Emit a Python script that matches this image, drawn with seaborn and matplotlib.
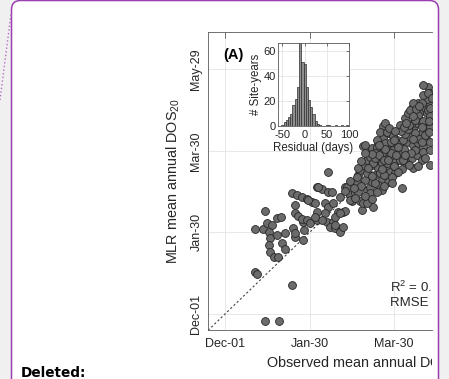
import matplotlib
matplotlib.use("Agg")
import matplotlib.pyplot as plt
import seaborn as sns
import numpy as np
from matplotlib.patches import FancyBboxPatch
from matplotlib.lines import Line2D
from matplotlib.transforms import IdentityTransform, Bbox

# Mean annual DOS20, in days since Dec-01 (observed vs. MLR-modelled)
obs_days = [
    28.2, 38.3, 47.5, 21.2, 22.4, 28.2, 21.2, 27.0, 29.4, 33.0, 31.0, 31.8, 31.0, 31.8,
    34.4, 37.6, 36.5, 39.2, 36.5, 40.5, 42.3, 42.3, 48.2, 49.4, 49.4, 49.4, 55.3, 56.0,
    55.3, 47.0, 50.6, 54.1, 49.4, 51.7, 54.1, 57.6, 61.2, 63.5, 57.6, 60.0, 64.7, 64.7,
    64.7, 68.2, 72.5, 75.8, 72.9, 70.6, 72.9, 76.5, 70.6, 71.8, 76.5, 74.1, 77.6, 81.2,
    81.2, 80.0, 83.5, 77.6, 84.7, 88.2, 91.7, 89.4, 95.3, 92.9, 94.1, 95.3, 97.6, 100.0,
    102.3, 96.5, 97.6, 100.0, 102.3, 103.5, 104.7, 97.2, 101.2, 103.5, 107.0, 103.5, 107.0, 108.2,
    105.9, 109.4, 110.6, 108.2, 110.6, 108.2, 111.7, 111.7, 115.3, 112.9, 115.3, 117.6, 114.1, 116.4,
    115.3, 110.6, 118.8, 121.2, 122.4, 123.5, 120.0, 123.5, 127.0, 124.7, 128.2, 124.7, 128.2, 130.6,
    132.9, 127.0, 129.4, 131.7, 132.9, 135.3, 136.5, 131.7, 135.3, 138.8, 136.5, 140.0, 142.3, 138.8,
    142.3, 143.5, 137.6, 141.2, 143.5, 142.3, 143.5, 144.7, 136.5, 140.0, 132.9, 109.4, 132.9, 140.0,
    144.7, 144.7, 144.7, 142.3, 134.1, 131.1, 85.9, 88.2, 94.1, 100.0, 102.3, 98.8, 92.9, 94.1,
    104.7, 110.6, 114.1, 120.0, 125.9, 118.8, 123.5, 112.9, 107.0, 105.9, 65.9, 84.7, 81.2, 83.5,
    77.6, 68.2, 63.5, 58.8, 130.6, 136.5, 143.5, 138.8, 114.1, 118.8, 125.9, 134.1, 107.0, 98.8,
    106.0, 109.0, 112.0, 117.0, 119.0, 121.0, 126.0, 134.0, 137.0, 139.0, 141.0, 144.0, 145.0, 133.0,
    127.0, 117.0, 124.0, 129.0, 134.0, 140.0, 145.0, 145.0, 139.0, 135.0, 130.0, 125.0, 130.0, 136.0,
    141.0, 118.0, 112.0, 106.0, 100.0, 96.0, 91.0, 88.0, 85.0, 92.0, 99.0, 104.0, 107.0, 112.0,
    118.0, 122.0, 113.0, 116.0, 120.0, 126.0, 128.0, 133.0, 137.0, 140.0, 143.0, 146.0, 131.0, 127.0,
    122.0, 119.0, 113.0, 109.0, 104.0, 99.0, 96.0, 101.0, 104.0, 111.0, 115.0, 139.0, 144.0,
]
mlr_days = [
    -5.1, -5.1, 21.2, 30.9, 29.2, 75.7, 62.4, 62.0, 66.5, 65.1, 60.2, 55.4, 50.3, 45.6,
    41.9, 41.9, 70.5, 71.0, 57.8, 51.7, 47.2, 59.0, 62.7, 56.3, 59.3, 73.7, 54.1, 61.4,
    67.5, 88.3, 87.0, 85.8, 79.7, 72.0, 69.5, 84.1, 81.7, 81.0, 68.8, 66.3, 68.8, 74.8,
    93.1, 91.2, 89.5, 89.5, 103.7, 81.0, 78.5, 81.0, 73.7, 67.5, 67.5, 63.9, 63.2, 60.2,
    85.3, 74.8, 74.8, 71.2, 93.1, 87.0, 88.3, 82.7, 82.7, 95.6, 101.7, 105.3, 109.0, 112.7,
    115.1, 76.1, 81.0, 90.7, 93.1, 96.8, 78.5, 122.9, 120.0, 121.7, 120.0, 109.0, 111.0, 106.6,
    101.7, 102.9, 98.0, 94.4, 90.7, 126.0, 128.5, 137.2, 132.2, 118.7, 122.4, 115.1, 107.8, 104.1,
    96.3, 110.2, 123.6, 127.3, 120.0, 138.3, 111.4, 112.7, 110.2, 117.6, 115.1, 92.0, 126.0, 129.7,
    123.6, 143.1, 146.8, 150.5, 135.8, 139.5, 143.1, 113.9, 116.3, 112.7, 124.9, 122.4, 127.3, 132.2,
    134.6, 140.7, 148.0, 150.5, 155.3, 157.5, 166.3, 161.4, 154.1, 167.5, 154.1, 133.5, 106.6, 118.7,
    109.0, 126.0, 137.1, 146.8, 148.0, 139.0, 93.1, 83.4, 89.5, 81.0, 88.3, 98.0, 100.4, 106.6,
    110.2, 117.6, 110.2, 102.9, 112.7, 120.0, 124.9, 124.9, 122.4, 117.6, 93.1, 75.6, 73.7, 63.9,
    65.1, 68.8, 71.2, 83.4, 149.2, 145.6, 149.2, 139.5, 133.5, 129.9, 127.3, 132.2, 127.3, 123.6,
    114.0, 116.0, 113.0, 118.0, 108.0, 116.0, 121.0, 120.0, 128.0, 126.0, 131.0, 133.0, 120.0, 128.0,
    132.0, 126.0, 134.0, 135.0, 142.0, 141.0, 145.0, 151.0, 154.0, 150.0, 138.0, 106.0, 109.0, 108.0,
    114.0, 100.0, 102.0, 96.0, 103.0, 94.0, 92.0, 97.0, 90.0, 85.0, 86.0, 84.0, 89.0, 94.0,
    96.0, 104.0, 140.0, 136.0, 134.0, 137.0, 140.0, 145.0, 152.0, 160.0, 162.0, 158.0, 118.0, 116.0,
    122.0, 127.0, 121.0, 124.0, 117.0, 118.0, 112.0, 107.0, 101.0, 106.0, 113.0, 137.0, 141.0,
]

# Date ticks (days since Dec-01)
tick_days = [0, 60, 119, 179]
tick_labels = ["Dec-01", "Jan-30", "Mar-30", "May-29"]

# Residual histogram: 5-day bins centred on -50, -45, ..., 95
resid_bin_centers = list(range(-50, 100, 5))
resid_counts = [1, 3, 5, 7, 10, 17, 22, 31, 70, 51, 50, 31, 21, 15, 10, 4, 2, 1, 0, 0,
                1, 1, 0, 0, 1, 0, 0, 1, 0, 1]

sns.set_style("white")
plt.rcParams["font.family"] = ["Liberation Sans", "DejaVu Sans"]
plt.rcParams["mathtext.default"] = "regular"
plt.rcParams["axes.unicode_minus"] = False

W, H = 449, 379
fig = plt.figure(figsize=(W / 100, H / 100), dpi=100)
fig.patch.set_facecolor("#f0f0f0")

# Page frame with rounded corners and comment connector
frame = FancyBboxPatch((11.5, -12), 427, 390.5,
                       boxstyle="round,pad=0,rounding_size=9",
                       transform=IdentityTransform(), facecolor="white",
                       edgecolor="#9a3fb0", linewidth=1.1, zorder=-10)
fig.add_artist(frame)
fig.add_artist(Line2D([0, 11], [H - 100, H - 14], transform=IdentityTransform(),
                      linestyle=":", color="#b46ac4", linewidth=1.0, zorder=-9))


def axrect(left, top, right, bottom):
    return [left / W, (H - bottom) / H, (right - left) / W, (bottom - top) / H]


text_col = "#262626"
spine_col = "#5a5a5a"

# Main scatter panel
ax = fig.add_axes(axrect(208, 32, 432, 330))
ax.set_facecolor("white")
sns.scatterplot(x=obs_days, y=mlr_days, ax=ax, s=32, color="#6b6b6b",
                edgecolor="#262626", linewidth=0.6, legend=False, zorder=3)
ax.plot([-12, 206], [-12, 206], linestyle=(0, (2, 2)), color="#444444",
        linewidth=0.8, zorder=2)
ax.set_xticks(tick_days)
ax.set_xticklabels(tick_labels)
ax.set_yticks(tick_days)
ax.set_yticklabels(tick_labels)
ax.set_xlim(-12, 146.1)
ax.set_ylim(-11.7, 206.3)
ax.grid(True, color="#e4e4e4", linewidth=0.6)
ax.set_axisbelow(True)
ax.tick_params(direction="in", length=4, width=0.6, color=spine_col, top=True,
               right=False, labelsize=9, labelcolor=text_col)
ax.tick_params(axis="x", pad=6)
ax.tick_params(axis="y", labelrotation=90, pad=4)
for lab in ax.get_yticklabels():
    lab.set_va("center")
for side in ["left", "bottom", "top"]:
    ax.spines[side].set_color(spine_col)
    ax.spines[side].set_linewidth(0.6)
ax.spines["right"].set_visible(False)

ax.set_ylabel("MLR mean annual DOS$_{20}$", fontsize=10.4, color=text_col)
ax.yaxis.set_label_coords(-0.118, 0.5)
ax.set_xlabel("Observed mean annual DOS$_{20}$", fontsize=10.4, color=text_col)
ax.xaxis.set_label_coords(0.70, -0.084)
ax.xaxis.label.set_clip_box(Bbox.from_extents(0, 0, 432, H))
ax.xaxis.label.set_clip_on(True)

ax.text(0.112, 0.923, "(A)", transform=ax.transAxes, fontsize=10.5,
        fontweight="bold", ha="center", va="center", color="black")
ax.text(0.8125, 0.144, "R$^2$ = 0.85", transform=ax.transAxes, fontsize=9.5,
        ha="left", va="center", color=text_col, clip_on=True)
ax.text(0.8125, 0.090, "RMSE = 14 days", transform=ax.transAxes, fontsize=9.5,
        ha="left", va="center", color=text_col, clip_on=True)

# Inset: histogram of residuals
axi = fig.add_axes(axrect(278, 43, 349, 126))
axi.set_facecolor("white")
edges = [c - 2.5 for c in resid_bin_centers] + [resid_bin_centers[-1] + 2.5]
sns.histplot(x=resid_bin_centers, weights=resid_counts, bins=edges, ax=axi,
             color="#8e8e8e", edgecolor="#2e2e2e", linewidth=0.5, alpha=1.0)
axi.set_xticks([-50, 0, 50, 100])
axi.set_yticks([0, 20, 40, 60])
axi.set_xlim(-60, 100)
axi.set_ylim(0, 66.4)
axi.grid(True, color="#e4e4e4", linewidth=0.6)
axi.set_axisbelow(True)
axi.tick_params(direction="in", length=2.5, width=0.6, color=spine_col, top=True,
                right=True, labelsize=8, labelcolor=text_col)
axi.tick_params(axis="x", pad=3)
axi.tick_params(axis="y", pad=1.5)
for side in axi.spines:
    axi.spines[side].set_color(spine_col)
    axi.spines[side].set_linewidth(0.6)
axi.set_xlabel("Residual (days)", fontsize=8.3, color=text_col, labelpad=1)
axi.set_ylabel("# Site-years", fontsize=8.3, color=text_col, labelpad=1)

fig.text(20.5 / W, 2 / H, "Deleted:", fontfamily="DejaVu Sans", fontweight="bold",
         fontsize=9.8, va="baseline", ha="left", color="black")

fig.savefig("out.png", dpi=100)
